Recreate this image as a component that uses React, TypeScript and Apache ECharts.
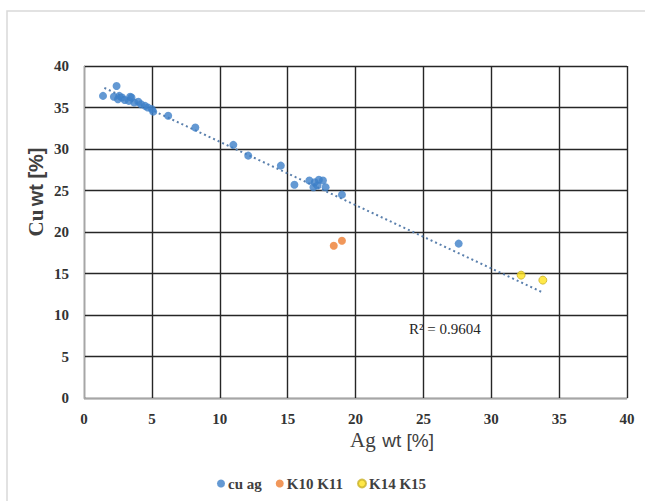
import React, { useEffect, useRef } from "react";
import * as echarts from "echarts";

const cuAgX = [1.4, 2.4, 2.2, 2.5, 2.6, 2.8, 3.0, 3.3, 3.4, 3.5, 3.7, 4.0, 4.2, 4.5, 4.7, 5.0, 5.1, 6.2, 8.2, 11.0, 12.1, 14.5, 15.5, 16.6, 17.0, 17.3, 17.6, 16.9, 17.8, 17.2, 19.0, 27.6];
const cuAgY = [36.4, 37.6, 36.3, 36.0, 36.4, 36.2, 35.9, 35.8, 36.3, 36.2, 35.6, 35.7, 35.4, 35.2, 35.0, 34.8, 34.5, 34.0, 32.6, 30.5, 29.2, 28.0, 25.7, 26.2, 26.0, 26.3, 26.2, 25.4, 25.4, 25.6, 24.5, 18.6];
const k10X = [18.4, 19.0];
const k10Y = [18.35, 18.95];
const k14X = [32.2, 33.8];
const k14Y = [14.8, 14.2];
const trendX = [1.5, 33.8];
const trendY = [37.36, 12.71];
const xTicks = [0, 5, 10, 15, 20, 25, 30, 35, 40];
const yTicks = [0, 5, 10, 15, 20, 25, 30, 35, 40];
const r2Text = "R² = 0.9604";

const zip = (a: number[], b: number[]) => a.map((v, i) => [v, b[i]]);

export default function App() {
  const ref = useRef<HTMLDivElement>(null);
  useEffect(() => {
    document.body.style.margin = "0";
    const chart = echarts.init(ref.current!, null, { renderer: "svg" });
    const serif = "'Liberation Serif', 'Times New Roman', serif";
    const sans = "'Liberation Sans', Arial, sans-serif";
    const tickLabel = { fontFamily: serif, fontWeight: "bold" as const, fontSize: 15, color: "#333333" };
    chart.setOption({
      animation: false,
      backgroundColor: "#ffffff",
      grid: { left: 84, right: 18, top: 66, bottom: 103, containLabel: false },
      xAxis: {
        type: "value",
        min: xTicks[0],
        max: xTicks[xTicks.length - 1],
        interval: 5,
        axisLine: { show: true, lineStyle: { color: "#a6a6a6", width: 1 } },
        axisTick: { show: false },
        axisLabel: { ...tickLabel, margin: 13 },
        splitLine: { show: true, lineStyle: { color: "#262626", width: 1.4 } },
      },
      yAxis: {
        type: "value",
        min: yTicks[0],
        max: yTicks[yTicks.length - 1],
        interval: 5,
        axisLine: { show: true, lineStyle: { color: "#a6a6a6", width: 1 } },
        axisTick: { show: false },
        axisLabel: { ...tickLabel, margin: 15 },
        splitLine: { show: true, lineStyle: { color: "#262626", width: 1.4 } },
      },
      legend: {
        bottom: 5,
        left: 212,
        itemWidth: 8,
        itemHeight: 8,
        itemGap: 14,
        icon: "circle",
        textStyle: { fontFamily: serif, fontWeight: "bold", fontSize: 15, color: "#404040", padding: [0, 0, 0, -2] },
        data: ["cu ag", "K10 K11", "K14 K15"],
      },
      series: [
        {
          name: "trend",
          type: "line",
          data: zip(trendX, trendY),
          symbol: "none",
          z: 1,
          lineStyle: { color: "#5b80ad", width: 2, type: [2, 3] },
        },
        {
          name: "cu ag",
          type: "scatter",
          data: zip(cuAgX, cuAgY),
          symbolSize: 8,
          z: 3,
          itemStyle: { color: "#3d80c8" },
        },
        {
          name: "K10 K11",
          type: "scatter",
          data: zip(k10X, k10Y),
          symbolSize: 8,
          z: 3,
          itemStyle: { color: "#ed7d31" },
        },
        {
          name: "K14 K15",
          type: "scatter",
          data: zip(k14X, k14Y),
          symbolSize: 8,
          z: 3,
          itemStyle: { color: "#ffe21a", borderColor: "#c9b22a", borderWidth: 1 },
        },
      ],
      graphic: [
        {
          type: "rect",
          shape: { x: 7, y: 11, width: 700, height: 600 },
          style: { fill: "none", stroke: "#d9d9d9", lineWidth: 1.5 },
          silent: true,
        },
        {
          type: "text",
          x: 409,
          y: 321,
          style: { text: r2Text, font: `15px ${serif}`, fill: "#262626" },
        },
        {
          type: "text",
          x: 392,
          y: 440,
          style: {
            text: "{a|Ag}  {b|wt [%]}",
            align: "center",
            verticalAlign: "middle",
            rich: {
              a: { fontFamily: serif, fontSize: 21, fill: "#404040" },
              b: { fontFamily: sans, fontSize: 19, fill: "#404040" },
            },
          },
        },
        {
          type: "text",
          x: 36,
          y: 192,
          rotation: Math.PI / 2,
          style: {
            text: "{a|Cu} {b|wt [%]}",
            align: "center",
            verticalAlign: "middle",
            rich: {
              a: { fontFamily: serif, fontSize: 21, fontWeight: "bold", fill: "#404040" },
              b: { fontFamily: sans, fontSize: 20, fontWeight: "bold", fill: "#404040" },
            },
          },
        },
      ],
    });
    return () => chart.dispose();
  }, []);
  return <div ref={ref} style={{ width: 645, height: 501 }} />;
}
